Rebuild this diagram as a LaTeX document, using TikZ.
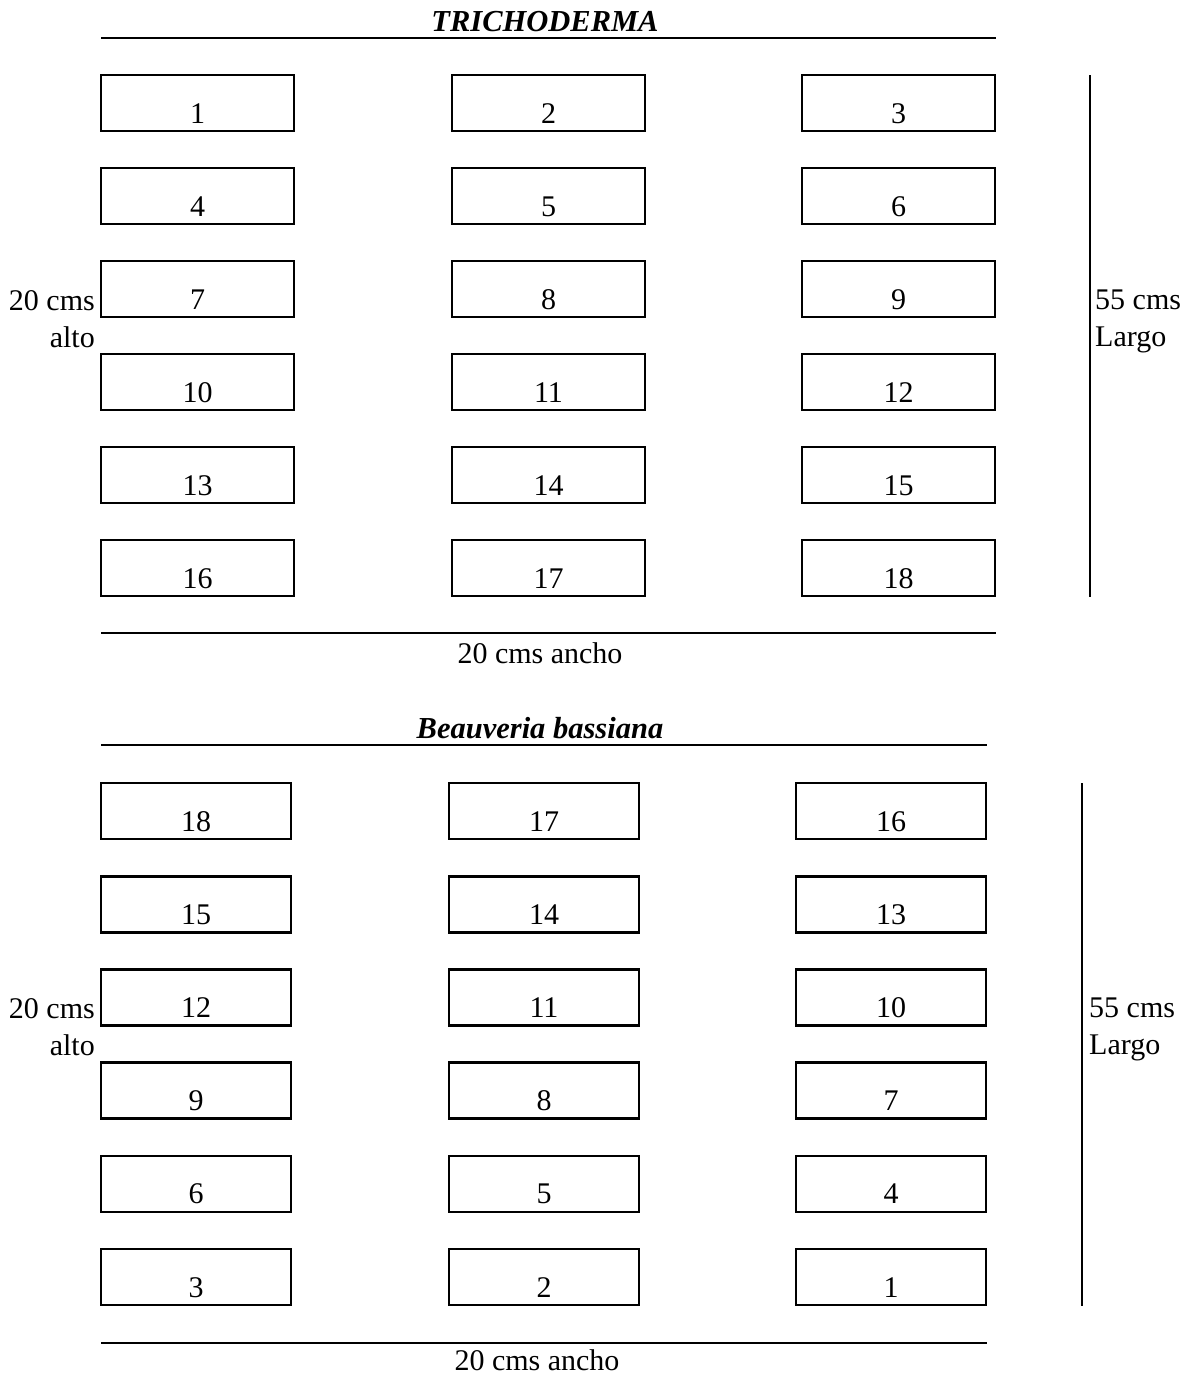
\documentclass[tikz,border=0pt]{standalone}
\usepackage{fontspec}
\setmainfont{Liberation Serif}
\begin{document}
\begin{tikzpicture}[x=1pt,y=-1pt,
  plot/.style={draw=black,line width=2.6pt,rectangle,minimum height=56pt,inner sep=0pt,outer sep=0pt},
  num/.style={anchor=base,inner sep=0pt,font=\fontsize{30}{36}\selectfont},
  lbl/.style={inner sep=0pt,font=\fontsize{30}{36}\selectfont},
  ttl/.style={anchor=base,inner sep=0pt,font=\fontsize{30.5}{36}\selectfont\bfseries\itshape},
  rule/.style={line width=2.6pt}]
\useasboundingbox (0,0) rectangle (1192,1376);
% ---------- TOP: TRICHODERMA ----------
\node[ttl] (t1) at (545,31) {TRICHODERMA};
\coordinate (t1l) at (101,38); \coordinate (t1r) at (996,38);
\draw[rule] (t1l) -- (t1r);
\foreach \r in {0,1,2,3,4,5}{
  \foreach \cx [count=\j from 1] in {197.5,548.5,898.5}{
    \pgfmathtruncatemacro{\n}{3*\r+\j}
    \pgfmathsetmacro{\ty}{75+93*\r}
    \node[plot,minimum width=193pt,anchor=north] (T\n) at (\cx,\ty) {};
    \node[num] (TN\n) at ([yshift=8pt]T\n.south) {\n};
  }
}
\coordinate (tv1) at (1090,75); \coordinate (tv2) at (1090,597);
\draw[rule] (tv1) -- (tv2);
\node[lbl,anchor=base west] (tl55) at (1095,309) {55 cms};
\node[lbl,anchor=base west] (tlla) at (1095,346) {Largo};
\node[lbl,anchor=base east] (tl20) at (95,310) {20 cms};
\node[lbl,anchor=base east] (tlal) at (95,347) {alto};
\coordinate (tb1) at (101,633); \coordinate (tb2) at (996,633);
\draw[rule] (tb1) -- (tb2);
\node[lbl,anchor=base] (tanch) at (540,663) {20 cms ancho};
% ---------- BOTTOM: Beauveria bassiana ----------
\node[ttl] (t2) at (540,738) {Beauveria bassiana};
\coordinate (t2l) at (101,745); \coordinate (t2r) at (987,745);
\draw[rule] (t2l) -- (t2r);
\foreach \r in {0,1,2,3,4,5}{
  \foreach \cx [count=\j from 1] in {196,544,891}{
    \pgfmathtruncatemacro{\n}{19-(3*\r+\j)}
    \pgfmathsetmacro{\ty}{783+93.2*\r}
    \node[plot,minimum width=190pt,anchor=north] (B\n) at (\cx,\ty) {};
    \node[num] (BN\n) at ([yshift=8pt]B\n.south) {\n};
  }
}
\coordinate (bv1) at (1082,783); \coordinate (bv2) at (1082,1306);
\draw[rule] (bv1) -- (bv2);
\node[lbl,anchor=base west] (bl55) at (1089,1017) {55 cms};
\node[lbl,anchor=base west] (blla) at (1089,1054) {Largo};
\node[lbl,anchor=base east] (bl20) at (95,1018) {20 cms};
\node[lbl,anchor=base east] (blal) at (95,1055) {alto};
\coordinate (bb1) at (101,1343); \coordinate (bb2) at (987,1343);
\draw[rule] (bb1) -- (bb2);
\node[lbl,anchor=base] (banch) at (537,1370) {20 cms ancho};
\end{tikzpicture}
\end{document}
